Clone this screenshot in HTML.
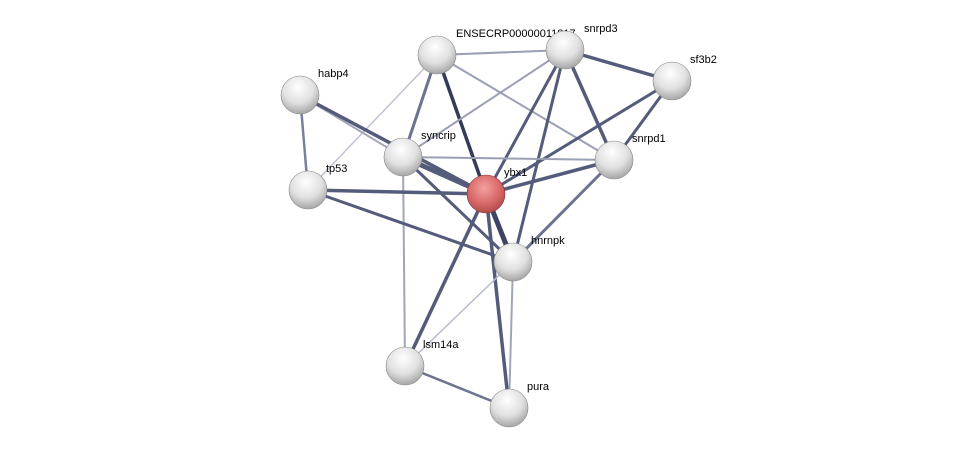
<!DOCTYPE html>
<html><head><style>body{margin:0;background:#fff}svg{display:block}text{font-family:"Liberation Sans",sans-serif;font-size:11px;fill:#000}</style></head><body>
<svg width="976" height="453" viewBox="0 0 976 453">
<defs>
<radialGradient id="g" cx="0.45" cy="0.3" r="0.75"><stop offset="0" stop-color="#ffffff"/><stop offset="0.55" stop-color="#e0e0e0"/><stop offset="1" stop-color="#9c9c9c"/></radialGradient>
<radialGradient id="r" cx="0.45" cy="0.35" r="0.75"><stop offset="0" stop-color="#f4a0a0"/><stop offset="0.55" stop-color="#d86868"/><stop offset="1" stop-color="#a04040"/></radialGradient>
</defs>
<g stroke-linecap="round">
<line x1="437" y1="55" x2="565" y2="50" stroke="#9a9fb4" stroke-width="2"/>
<line x1="437" y1="55" x2="403" y2="157" stroke="#6c7290" stroke-width="3"/>
<line x1="437" y1="55" x2="486" y2="194" stroke="#343a5a" stroke-width="3.5"/>
<line x1="437" y1="55" x2="614" y2="160" stroke="#9a9fb4" stroke-width="2"/>
<line x1="437" y1="55" x2="308" y2="190" stroke="#c0c3d0" stroke-width="1.5"/>
<line x1="565" y1="50" x2="672" y2="81" stroke="#555b7a" stroke-width="3.5"/>
<line x1="565" y1="50" x2="403" y2="157" stroke="#9a9fb4" stroke-width="2"/>
<line x1="565" y1="50" x2="486" y2="194" stroke="#555b7a" stroke-width="3"/>
<line x1="565" y1="50" x2="513" y2="262" stroke="#555b7a" stroke-width="3"/>
<line x1="565" y1="50" x2="614" y2="160" stroke="#555b7a" stroke-width="3.5"/>
<line x1="672" y1="81" x2="486" y2="194" stroke="#555b7a" stroke-width="3"/>
<line x1="672" y1="81" x2="614" y2="160" stroke="#555b7a" stroke-width="3"/>
<line x1="300" y1="95" x2="308" y2="190" stroke="#7a809c" stroke-width="2.5"/>
<line x1="300" y1="95" x2="403" y2="157" stroke="#a0a5b8" stroke-width="2"/>
<line x1="300" y1="95" x2="486" y2="194" stroke="#555b7a" stroke-width="3.5"/>
<line x1="403" y1="157" x2="614" y2="160" stroke="#9a9fb4" stroke-width="2"/>
<line x1="403" y1="157" x2="486" y2="194" stroke="#555b7a" stroke-width="5"/>
<line x1="403" y1="157" x2="513" y2="262" stroke="#555b7a" stroke-width="3"/>
<line x1="403" y1="157" x2="405" y2="366" stroke="#a0a5b8" stroke-width="2"/>
<line x1="308" y1="190" x2="486" y2="194" stroke="#555b7a" stroke-width="3.5"/>
<line x1="308" y1="190" x2="513" y2="262" stroke="#555b7a" stroke-width="3"/>
<line x1="486" y1="194" x2="614" y2="160" stroke="#555b7a" stroke-width="3.5"/>
<line x1="486" y1="194" x2="513" y2="262" stroke="#3e4464" stroke-width="5"/>
<line x1="486" y1="194" x2="405" y2="366" stroke="#555b7a" stroke-width="3.5"/>
<line x1="486" y1="194" x2="509" y2="408" stroke="#555b7a" stroke-width="3.5"/>
<line x1="614" y1="160" x2="513" y2="262" stroke="#6c7290" stroke-width="3"/>
<line x1="513" y1="262" x2="405" y2="366" stroke="#b8bccb" stroke-width="1.5"/>
<line x1="513" y1="262" x2="509" y2="408" stroke="#a0a5b8" stroke-width="2"/>
<line x1="405" y1="366" x2="509" y2="408" stroke="#6c7290" stroke-width="2.5"/>
</g>
<text x="456" y="37">ENSECRP00000011817</text>
<g stroke="#888" stroke-width="0.6">
<circle cx="437" cy="55" r="19" fill="url(#g)"/>
<circle cx="565" cy="50" r="19" fill="url(#g)"/>
<circle cx="672" cy="81" r="19" fill="url(#g)"/>
<circle cx="300" cy="95" r="19" fill="url(#g)"/>
<circle cx="403" cy="157" r="19" fill="url(#g)"/>
<circle cx="614" cy="160" r="19" fill="url(#g)"/>
<circle cx="308" cy="190" r="19" fill="url(#g)"/>
<circle cx="486" cy="194" r="19" fill="url(#r)" stroke="#833"/>
<circle cx="513" cy="262" r="19" fill="url(#g)"/>
<circle cx="405" cy="366" r="19" fill="url(#g)"/>
<circle cx="509" cy="408" r="19" fill="url(#g)"/>
</g>
<text x="584" y="32">snrpd3</text>
<text x="690" y="63">sf3b2</text>
<text x="318" y="77">habp4</text>
<text x="421" y="139">syncrip</text>
<text x="632" y="142">snrpd1</text>
<text x="326" y="172">tp53</text>
<text x="504" y="176">ybx1</text>
<text x="531" y="244">hnrnpk</text>
<text x="423" y="348">lsm14a</text>
<text x="527" y="390">pura</text>
</svg>
</body></html>
